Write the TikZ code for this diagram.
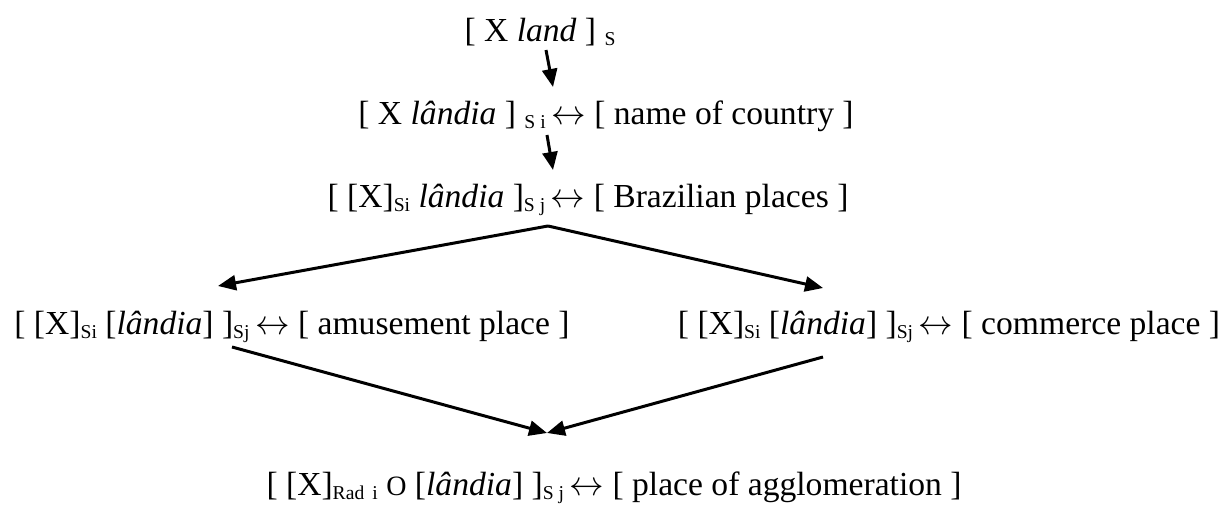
\documentclass[tikz,border=0pt]{standalone}
\usepackage{fontspec}
\setmainfont{Liberation Serif}
\usepackage{xcolor}
\usetikzlibrary{arrows.meta,calc}
\definecolor{cInk}{HTML}{000000}
\newcommand{\sbs}[1]{\raisebox{-2pt}{\fontsize{9.8}{10}\selectfont #1}}
\newcommand{\lnk}{{\fontsize{14}{14}\selectfont O}}
\newcommand{\biarr}{\,$\leftrightarrow$}
\tikzset{
  form/.style={anchor=base,inner sep=0pt,font=\fontsize{16.8}{20}\selectfont,text=cInk},
  arr/.style={-{Triangle[length=9pt,width=7.5pt]},line width=1.5pt,color=cInk},
}

\begin{document}
\begin{tikzpicture}[x=0.5pt,y=-0.5pt]
    \useasboundingbox (0,0) rectangle (1221,506);
    \node[form] (top) at (540,42) {[ X \emph{land} ] \sbs{S}};
    \node[form] (ctry) at (606,125) {[ X \emph{lândia} ] \sbs{S i}\biarr{} [ name of country ]};
    \node[form] (braz) at (588,208) {[ [X]\sbs{Si} \emph{lândia} ]\sbs{S j}\biarr{} [ Brazilian places ]};
    \node[form] (amus) at (292,335) {[ [X]\sbs{Si} [\emph{lândia}] ]\sbs{Sj}\biarr{} [ amusement place ]};
    \node[form] (comm) at (949,335) {[ [X]\sbs{Si} [\emph{lândia}] ]\sbs{Sj}\biarr{} [ commerce place ]};
    \node[form] (aggl) at (614,496) {[ [X]\sbs{Rad\, i} \lnk{} [\emph{lândia}] ]\sbs{S j}\biarr{} [ place of agglomeration ]};
    \coordinate (fork) at (548,226);
    \coordinate (merge) at (547,433);
    \draw[arr] ([shift={(6,8)}]top.base) -- ([shift={(-53,-38)}]ctry.base);
    \draw[arr] ([shift={(-59,10)}]ctry.base) -- ([shift={(-35,-38)}]braz.base);
    \draw[arr] (fork) -- ([shift={(-74,-49)}]amus.base);
    \draw[arr] (fork) -- ([shift={(-126,-47)}]comm.base);
    \draw[arr] ([shift={(-60,12)}]amus.base) -- (merge);
    \draw[arr] ([shift={(-126,22)}]comm.base) -- (merge);
  \end{tikzpicture}
\end{document}
